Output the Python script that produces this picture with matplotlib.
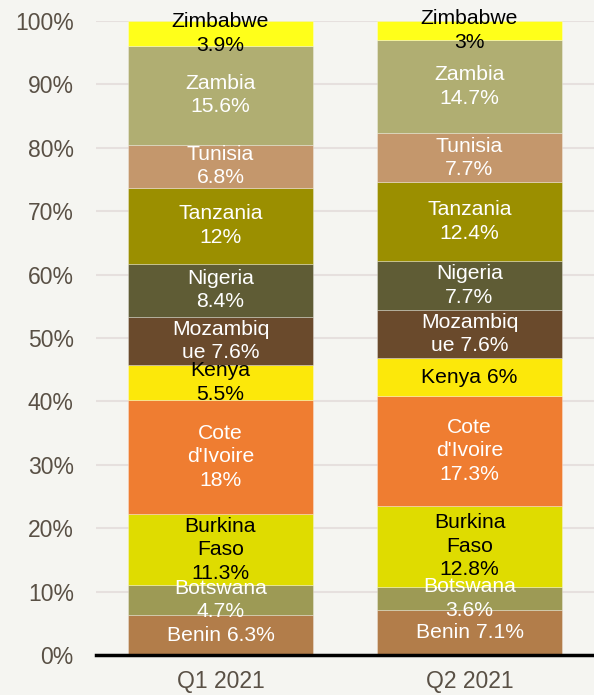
import matplotlib
matplotlib.use("Agg")
import matplotlib.pyplot as plt
import numpy as np

plt.rcParams['font.family'] = ['Liberation Sans', 'DejaVu Sans']

quarters = ["Q1 2021", "Q2 2021"]
countries = ["Benin", "Botswana", "Burkina Faso", "Cote d'Ivoire", "Kenya",
             "Mozambique", "Nigeria", "Tanzania", "Tunisia", "Zambia", "Zimbabwe"]
q1_values = [6.3, 4.7, 11.3, 18, 5.5, 7.6, 8.4, 12, 6.8, 15.6, 3.9]
q2_values = [7.1, 3.6, 12.8, 17.3, 6, 7.6, 7.7, 12.4, 7.7, 14.7, 3]
q1_labels = ["Benin 6.3%", "Botswana\n4.7%", "Burkina\nFaso\n11.3%", "Cote\nd'Ivoire\n18%",
             "Kenya\n5.5%", "Mozambiq\nue 7.6%", "Nigeria\n8.4%", "Tanzania\n12%",
             "Tunisia\n6.8%", "Zambia\n15.6%", "Zimbabwe\n3.9%"]
q2_labels = ["Benin 7.1%", "Botswana\n3.6%", "Burkina\nFaso\n12.8%", "Cote\nd'Ivoire\n17.3%",
             "Kenya 6%", "Mozambiq\nue 7.6%", "Nigeria\n7.7%", "Tanzania\n12.4%",
             "Tunisia\n7.7%", "Zambia\n14.7%", "Zimbabwe\n3%"]
colors = ["#B27D4A", "#9D9A55", "#DFDC00", "#EF7D31", "#FCE80A", "#6A4A2C",
          "#5F5C35", "#9B8F00", "#C4976C", "#B0AE72", "#FFFF1A"]
text_colors = ["white", "white", "black", "white", "black", "white",
               "white", "white", "white", "white", "black"]

bg = "#F5F5F1"
fig = plt.figure(figsize=(5.94, 6.95), dpi=100, facecolor=bg)
ax = fig.add_axes([96/594, 40/695, 498/594, 634/695], facecolor=bg)

x = np.arange(len(quarters))
data = np.array([q1_values, q2_values], dtype=float)
data = data / data.sum(axis=1, keepdims=True) * 100  # 100% stacked
labels = [q1_labels, q2_labels]
bottom = np.zeros(len(quarters))
for i, c in enumerate(countries):
    vals = data[:, i]
    ax.bar(x, vals, bottom=bottom, width=0.74, color=colors[i],
           edgecolor=(1, 1, 1, 0.35), linewidth=0.6, zorder=2)
    for j in range(len(quarters)):
        ax.text(x[j], bottom[j] + vals[j] / 2, labels[j][i], ha='center', va='center',
                color=text_colors[i], fontsize=15.2, linespacing=1.3, zorder=3)
    bottom += vals

ax.set_xlim(-0.5, 1.5)
ax.set_ylim(0, 100)
ax.set_yticks(np.arange(0, 101, 10))
ax.set_yticklabels([f"{v}%" for v in range(0, 101, 10)])
ax.set_xticks(x)
ax.set_xticklabels(quarters)
ax.tick_params(axis='both', length=0, labelsize=16.5, labelcolor="#595045")
ax.tick_params(axis='y', pad=16)
ax.tick_params(axis='x', pad=11)
ax.grid(axis='y', color="#E6E0DE", linewidth=1.5, zorder=0)
ax.set_axisbelow(True)
for s in ['left', 'right', 'top']:
    ax.spines[s].set_visible(False)
ax.spines['bottom'].set_color('black')
ax.spines['bottom'].set_linewidth(2.5)
ax.spines['bottom'].set_zorder(4)

fig.savefig("out.png", dpi=100, facecolor=bg)
